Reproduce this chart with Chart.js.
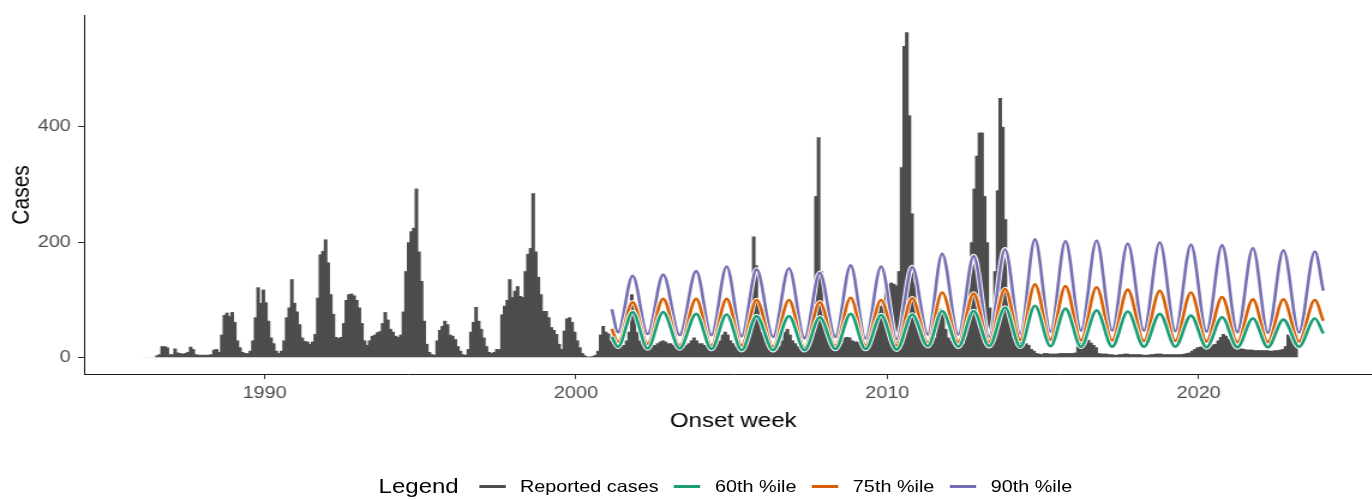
<!DOCTYPE html>
<html>
<head>
<meta charset="utf-8">
<title>Reported cases by onset week</title>
<script src="https://cdn.jsdelivr.net/npm/chart.js@4.4.1/dist/chart.umd.min.js"></script>
<style>
  html, body { margin: 0; padding: 0; background: #fff; overflow: hidden; }
  body { width: 1372px; height: 500px; position: relative; }
  /* the reference is stretched sideways, so draw narrow and widen */
  #stage { position: absolute; left: 0; top: 0; width: 1160px; height: 500px; transform: scaleX(1.2); transform-origin: 0 0; }
  #legend { position: absolute; top: 475px; left: 611px; transform: translateX(-50%); display: flex; align-items: center; white-space: nowrap; font-family: 'Liberation Sans', Arial, sans-serif; color: #000; }
  #legend .title { font-size: 20px; margin-right: 17px; }
  #legend .key { width: 22px; height: 2.5px; margin-right: 12px; }
  #legend .label { font-size: 16.5px; margin-right: 13px; }
</style>
</head>
<body>
<div id="stage">
  <canvas id="casesChart" width="1160" height="500"></canvas>
  <div id="legend"></div>
</div>
<script>
// monthly reported cases, starting January 1986
const caseStartYear = 1986;
const reportedCases = [
  0, 1, 1, 1, 1, 1, 4, 6, 20, 20, 18, 6,            // 1986
  6, 16, 9, 8, 7, 8, 10, 19, 15, 6, 5, 5,           // 1987
  5, 5, 5, 6, 14, 15, 10, 40, 74, 78, 72, 79,       // 1988
  62, 30, 18, 10, 8, 8, 12, 30, 70, 122, 95, 118,   // 1989
  96, 64, 35, 25, 12, 8, 12, 30, 70, 87, 136, 95,   // 1990
  80, 58, 35, 29, 28, 24, 28, 41, 104, 179, 185, 205, // 1991
  165, 110, 76, 36, 34, 36, 60, 100, 110, 111, 108, 100, // 1992
  87, 60, 30, 22, 30, 38, 40, 44, 46, 60, 79, 66,   // 1993
  50, 45, 38, 36, 40, 80, 150, 200, 219, 225, 293, 184, // 1994
  133, 64, 24, 10, 6, 5, 30, 48, 55, 64, 58, 40,    // 1995
  38, 32, 20, 12, 6, 5, 15, 45, 62, 88, 64, 50,     // 1996
  35, 20, 10, 8, 10, 15, 15, 75, 90, 100, 136, 105, // 1997
  116, 124, 107, 105, 150, 180, 190, 285, 184, 140, 110, 81, // 1998
  81, 70, 53, 48, 41, 24, 15, 47, 68, 70, 62, 45,   // 1999
  30, 18, 8, 4, 2, 2, 3, 5, 12, 40, 55, 45,         // 2000
  42, 30, 25, 22, 20, 20, 22, 30, 45, 110, 95, 45,  // 2001
  30, 25, 22, 20, 20, 22, 22, 25, 28, 30, 28, 25,   // 2002
  25, 22, 20, 18, 18, 20, 22, 25, 30, 35, 30, 25,   // 2003
  25, 22, 20, 18, 20, 22, 25, 30, 40, 45, 40, 30,   // 2004
  25, 20, 18, 15, 15, 18, 35, 125, 210, 160, 90, 45, // 2005
  35, 25, 20, 15, 15, 15, 20, 30, 45, 50, 40, 30,   // 2006
  25, 20, 15, 12, 12, 15, 25, 100, 280, 382, 150, 80, // 2007
  45, 30, 20, 18, 18, 20, 25, 35, 36, 35, 30, 28,   // 2008
  28, 25, 22, 20, 20, 25, 40, 65, 80, 90, 100, 120, // 2009
  127, 130, 128, 125, 150, 330, 540, 564, 420, 250, 130, 75, // 2010
  45, 30, 25, 20, 20, 25, 35, 60, 85, 80, 50, 35,   // 2011
  30, 25, 20, 18, 20, 25, 45, 120, 200, 293, 350, 390, // 2012
  390, 280, 200, 87, 70, 150, 290, 450, 400, 240, 110, 60, // 2013
  35, 30, 30, 28, 25, 25, 22, 15, 12, 8, 7, 6,      // 2014
  8, 8, 7, 7, 7, 7, 8, 8, 8, 8, 8, 8,               // 2015
  9, 22, 26, 24, 28, 31, 26, 22, 18, 8, 7, 7,       // 2016
  7, 6, 6, 5, 5, 6, 6, 7, 7, 6, 6, 6,               // 2017
  6, 6, 5, 5, 5, 6, 6, 7, 7, 7, 6, 6,               // 2018
  6, 6, 6, 6, 6, 6, 7, 8, 9, 12, 15, 18,            // 2019
  19, 20, 21, 22, 22, 23, 24, 30, 36, 41, 38, 33,   // 2020
  30, 26, 21, 18, 16, 15, 14, 14, 14, 13, 13, 13,   // 2021
  13, 13, 13, 12, 12, 13, 13, 14, 15, 20, 40, 67,   // 2022
  58, 50                                            // 2023
];

// seasonal threshold curves: start, then trough / peak of each season, then end
const percentileTimes = [2001.15,
  2001.35, 2001.82, 2002.3, 2002.8, 2003.33, 2003.86, 2004.35, 2004.84,
  2005.32, 2005.8, 2006.33, 2006.84, 2007.34, 2007.83, 2008.33, 2008.82,
  2009.3, 2009.8, 2010.3, 2010.8, 2011.3, 2011.76, 2012.28, 2012.77,
  2013.27, 2013.78, 2014.27, 2014.74, 2015.24, 2015.72, 2016.22, 2016.72,
  2017.22, 2017.72, 2018.24, 2018.75, 2019.25, 2019.75, 2020.25, 2020.75,
  2021.24, 2021.74, 2022.22, 2022.72, 2023.22, 2023.73, 2024.0];
const p60 = [36, 19, 79, 16, 79, 16, 76, 15, 75, 13, 72, 13, 72, 13, 70, 15, 76, 15, 74, 14, 75,
  20, 81, 19, 81, 20, 87, 19, 90, 20, 85, 19, 82, 19, 80, 19, 76, 19, 73, 18, 70, 18, 68, 18, 66, 19, 68, 42];
const p75 = [50, 27, 96, 24, 102, 21, 102, 21, 102, 21, 100, 19, 100, 17, 96, 20, 104, 21, 100, 21, 103,
  26, 113, 27, 111, 27, 119, 31, 127, 31, 124, 30, 122, 30, 118, 29, 116, 29, 113, 28, 105, 27, 101, 27, 101, 28, 100, 64];
const p90 = [84, 44, 142, 41, 144, 39, 150, 39, 158, 37, 153, 36, 155, 34, 147, 36, 160, 33, 158, 32, 157,
  40, 180, 40, 176, 36, 188, 41, 205, 45, 202, 47, 203, 47, 198, 47, 200, 46, 196, 45, 195, 44, 190, 43, 186, 44, 184, 116];

const xTicks = [1990, 2000, 2010, 2020];
const yTicks = [0, 200, 400];

const seriesNames = ['Reported cases', '60th %ile', '75th %ile', '90th %ile'];
const seriesColors = ['#4d4d4d', '#1b9e77', '#d95f02', '#7570b3'];

const fontFamily = "'Liberation Sans', Arial, sans-serif";
const lineWidth = 2.6;

const casePoints = reportedCases.map((v, i) => ({ x: caseStartYear + (i + 0.5) / 12, y: v }));
const linePoints = (vals) => vals.map((v, i) => ({ x: percentileTimes[i], y: v }));

const lineDataset = (idx, vals) => ({
  type: 'line',
  label: seriesNames[idx],
  data: linePoints(vals),
  borderColor: seriesColors[idx],
  backgroundColor: seriesColors[idx],
  borderWidth: lineWidth,
  pointRadius: 0,
  fill: false,
  cubicInterpolationMode: 'monotone',
  order: 1,
});

// thin white edge under each threshold line, as in the original
const lineHalo = {
  id: 'lineHalo',
  beforeDatasetDraw(chart, args) {
    const meta = args.meta;
    if (meta.type !== 'line') return;
    const line = meta.dataset;
    line.updateControlPoints(chart.chartArea, meta.iScale.axis);
    const c = chart.ctx;
    c.save();
    c.beginPath();
    line.path(c);
    c.strokeStyle = '#fff';
    c.lineWidth = lineWidth + 2;
    c.lineJoin = 'round';
    c.stroke();
    c.restore();
  },
};

const ctx = document.getElementById('casesChart').getContext('2d');
const chart = new Chart(ctx, {
  type: 'bar',
  data: {
    datasets: [
      {
        type: 'bar',
        label: seriesNames[0],
        data: casePoints,
        backgroundColor: seriesColors[0],
        borderWidth: 0,
        barPercentage: 1.4,
        categoryPercentage: 1,
        order: 10,
      },
      lineDataset(1, p60),
      lineDataset(2, p75),
      lineDataset(3, p90),
    ],
  },
  options: {
    responsive: false,
    animation: false,
    layout: { padding: { top: 13, right: 8, left: 0, bottom: 0 } },
    plugins: {
      legend: { display: false },
      tooltip: { enabled: false },
    },
    scales: {
      x: {
        type: 'linear',
        min: 1984.2,
        max: 2025.9,
        offset: false,
        afterBuildTicks: (s) => { s.ticks = xTicks.map((v) => ({ value: v })); },
        afterFit: (s) => { s.height = 126; },
        grid: { display: true, offset: false, drawOnChartArea: false, drawTicks: true, tickLength: 5, color: '#333' },
        border: { display: true, color: '#1a1a1a', width: 1 },
        ticks: {
          padding: 5,
          color: '#4d4d4d',
          font: { family: fontFamily, size: 16.5 },
          maxRotation: 0,
          callback: (v) => String(v),
        },
        title: {
          display: true,
          text: 'Onset week',
          color: '#000',
          font: { family: fontFamily, size: 20 },
          padding: { top: 0, bottom: 67 },
        },
      },
      y: {
        type: 'linear',
        min: -28.2,
        max: 592.2,
        afterBuildTicks: (s) => { s.ticks = yTicks.map((v) => ({ value: v })); },
        afterFit: (s) => { s.width = 70; },
        grid: { display: true, drawOnChartArea: false, drawTicks: true, tickLength: 5, color: '#333' },
        border: { display: true, color: '#1a1a1a', width: 1 },
        ticks: {
          padding: 6,
          color: '#4d4d4d',
          font: { family: fontFamily, size: 16.5 },
          callback: (v) => String(v),
        },
        title: {
          display: true,
          text: 'Cases',
          color: '#000',
          font: { family: fontFamily, size: 21 },
          padding: { top: 6, bottom: 0 },
        },
      },
    },
  },
  plugins: [lineHalo],
});

// legend row below the plot
const legendEl = document.getElementById('legend');
const legendTitle = document.createElement('span');
legendTitle.className = 'title';
legendTitle.textContent = 'Legend';
legendEl.appendChild(legendTitle);
chart.data.datasets.forEach((ds, i) => {
  const key = document.createElement('span');
  key.className = 'key';
  key.style.background = seriesColors[i];
  const label = document.createElement('span');
  label.className = 'label';
  label.textContent = ds.label;
  legendEl.appendChild(key);
  legendEl.appendChild(label);
});
</script>
</body>
</html>
